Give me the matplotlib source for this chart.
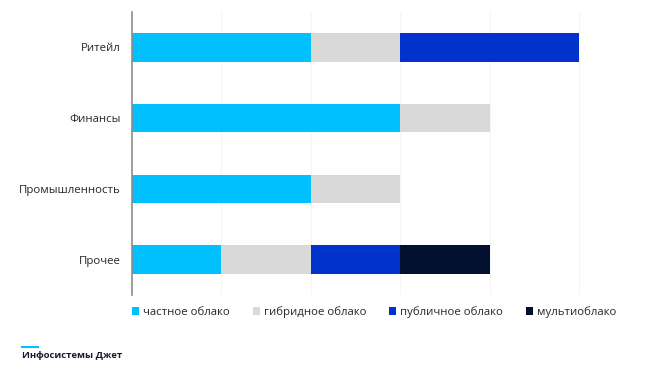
import matplotlib.pyplot as plt
from matplotlib.patches import Patch
from matplotlib.lines import Line2D

# ============================================================
# DATA
# ============================================================
CATEGORIES = ["Ритейл", "Финансы", "Промышленность", "Прочее"]
SERIES = ["частное облако", "гибридное облако", "публичное облако", "мультиоблако"]
PRIVATE = [2, 3, 2, 1]
HYBRID = [1, 1, 1, 1]
PUBLIC = [2, 0, 0, 1]
MULTI = [0, 0, 0, 1]

COLORS = ["#00C0FF", "#D9D9D9", "#0033CC", "#00102E"]

plt.rcParams["font.family"] = ["Open Sans", "DejaVu Sans"]

# ============================================================
# PLOT
# ============================================================
fig = plt.figure(figsize=(6.55, 3.76), dpi=100)
ax = fig.add_axes([132 / 655, 1 - 295 / 376, (632 - 132) / 655, 283 / 376])

ypos = list(range(len(CATEGORIES)))
left = [0] * len(CATEGORIES)
for vals, color in zip([PRIVATE, HYBRID, PUBLIC, MULTI], COLORS):
    ax.barh(ypos, vals, left=left, height=0.4, color=color, zorder=2)
    left = [l + v for l, v in zip(left, vals)]

ax.set_ylim(3.5, -0.5)
ax.set_xlim(0, 5.59)
ax.set_xticks([1, 2, 3, 4, 5])
ax.set_xticklabels([])
ax.tick_params(axis="x", length=0)
ax.tick_params(axis="y", length=0, pad=8, labelsize=8.2, labelcolor="#262626")
ax.set_yticks(ypos)
ax.set_yticklabels(CATEGORIES)
ax.grid(axis="x", color="#F5F5F5", linewidth=0.8, zorder=0)
for side in ["top", "right", "bottom"]:
    ax.spines[side].set_visible(False)
ax.spines["left"].set_color("#8C8C8C")
ax.spines["left"].set_linewidth(1.2)

handles = [Patch(facecolor=c, edgecolor="none") for c in COLORS]
fig.legend(handles, SERIES, loc="center left", bbox_to_anchor=(130 / 655, 1 - 312 / 376),
           ncol=4, frameon=False, fontsize=8.2, handlelength=0.62, handleheight=0.62,
           handletextpad=0.35, columnspacing=2.0, borderaxespad=0, borderpad=0.2,
           labelcolor="#262626")

# brand mark
fig.add_artist(Line2D([22 / 655, 38 / 655], [1 - 347 / 376, 1 - 347 / 376],
                      color="#00C0FF", linewidth=1.5))
fig.text(22 / 655, 1 - 356 / 376, "Инфосистемы Джет", fontsize=6.8, fontweight="bold",
         color="#1A1A2E", va="center", ha="left")

fig.savefig("out.png", dpi=100)
